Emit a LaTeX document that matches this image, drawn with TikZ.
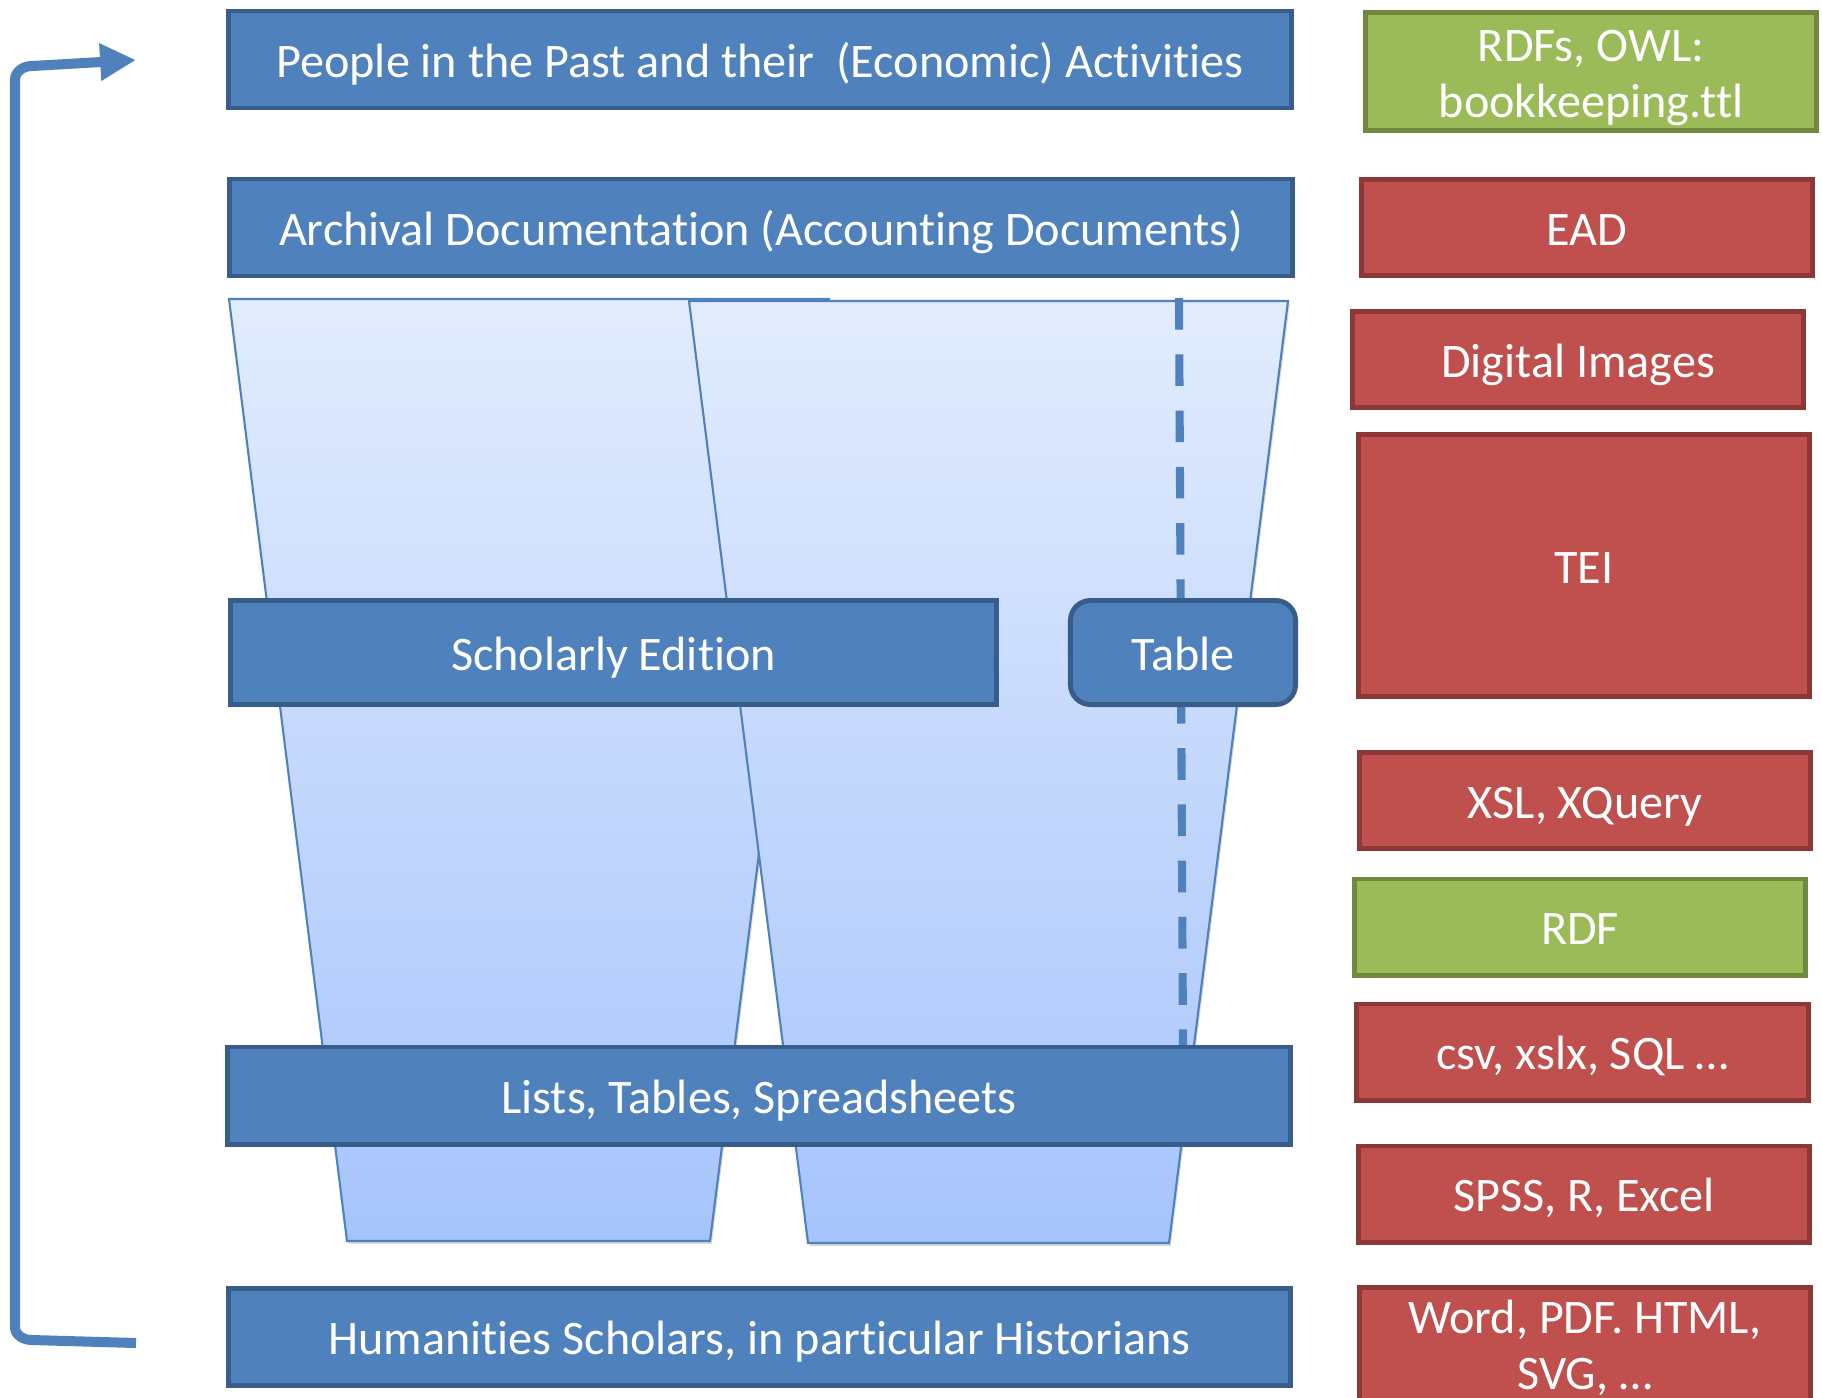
\documentclass[tikz,border=0pt]{standalone}
\usepackage{fontspec}
\setmainfont{Carlito}[Ligatures=CommonOff]
\usetikzlibrary{arrows.meta,shadows}

\definecolor{layerfill}{HTML}{4F81BD}
\definecolor{layerline}{HTML}{385D8A}
\definecolor{formatfill}{HTML}{C0504D}
\definecolor{formatline}{HTML}{8C3836}
\definecolor{semfill}{HTML}{9BBB59}
\definecolor{semline}{HTML}{71893F}
\definecolor{funneltop}{HTML}{E2ECFD}
\definecolor{funnelbot}{HTML}{A6C4FC}

\begin{document}
\begin{tikzpicture}[x=0.01cm,y=-0.01cm,
    box/.style={rectangle,line width=1.4pt,text=white,inner sep=0pt,
        font=\fontsize{13.7}{15.9}\selectfont,text height=13.1pt,text depth=3pt},
    layerbox/.style={box,draw=layerline,fill=layerfill,minimum width=10.62cm,minimum height=0.97cm},
    formatbox/.style={box,draw=formatline,fill=formatfill,minimum width=4.51cm,minimum height=0.96cm},
    semanticbox/.style={formatbox,draw=semline,fill=semfill},
    twolines/.style={align=center,text height=29pt},
    funnel/.style={draw=layerfill,line width=0.6pt,top color=funneltop,bottom color=funnelbot,
        drop shadow={shadow xshift=0.5pt,shadow yshift=-0.8pt,opacity=0.3}},
    tablerule/.style={draw=layerfill,line width=2.3pt,dash pattern=on 9pt off 7pt},
    feedback/.style={draw=layerfill,line width=2.85pt,-{Triangle[length=10.2pt,width=10pt]}}
]

    \useasboundingbox (0,0) rectangle (1822,1397);
    \clip (0,0) rectangle (1822,1397);

    % the two funnels
    \draw[funnel] (229,299) -- (829,299) -- (710,1241) -- (347,1241) -- cycle;
    \draw[funnel] (689,301) -- (1288,301) -- (1169,1243) -- (808,1243) -- cycle;

    \coordinate (ruletop) at (1179,298);
    \coordinate (rulebot) at (1183,1048);
    \draw[tablerule] (ruletop) -- (rulebot);

    % layers
    \node[layerbox] (people) at (760,59.5) {People in the Past and their\ \ (Economic) Activities};
    \node[layerbox] (archival) at (761,227.5) {Archival Documentation (Accounting Documents)};
    \node[layerbox,minimum width=7.66cm,minimum height=1.04cm] (edition) at (613.5,652.5) {Scholarly Edition};
    \node[layerbox,minimum width=2.25cm,minimum height=1.04cm,rounded corners=0.2cm] (table) at (1183,652.5) {Table};
    \node[layerbox] (lists) at (759,1095.5) {Lists, Tables, Spreadsheets};
    \node[layerbox] (scholars) at (759.5,1337) {Humanities Scholars, in particular Historians};

    % formats
    \node[semanticbox,twolines,minimum height=1.18cm] (ontology) at (1591,71.5) {RDFs, OWL:\\bookkeeping.ttl};
    \node[formatbox] (ead) at (1587,227.5) {EAD};
    \node[formatbox] (images) at (1578,359.5) {Digital Images};
    \node[formatbox,minimum height=2.62cm] (tei) at (1584,565.5) {TEI};
    \node[formatbox] (xsl) at (1585,800.5) {XSL, XQuery};
    \node[semanticbox] (rdf) at (1580,927) {RDF};
    \node[formatbox] (csv) at (1582.5,1052) {csv, xslx, SQL \dots};
    \node[formatbox] (stats) at (1584,1194) {SPSS, R, Excel};
    \node[formatbox,twolines,minimum height=1.11cm] (output) at (1585,1344) {Word, PDF. HTML,\\SVG, \dots};

    \coordinate (loopfoot) at (136,1343);
    \coordinate (looptip) at (136,60);
    \draw[feedback] (loopfoot) -- (32,1340) to[out=180,in=-90] (15,1327) -- (15,80) to[out=90,in=180] (32,66) -- (looptip);

\end{tikzpicture}
\end{document}
